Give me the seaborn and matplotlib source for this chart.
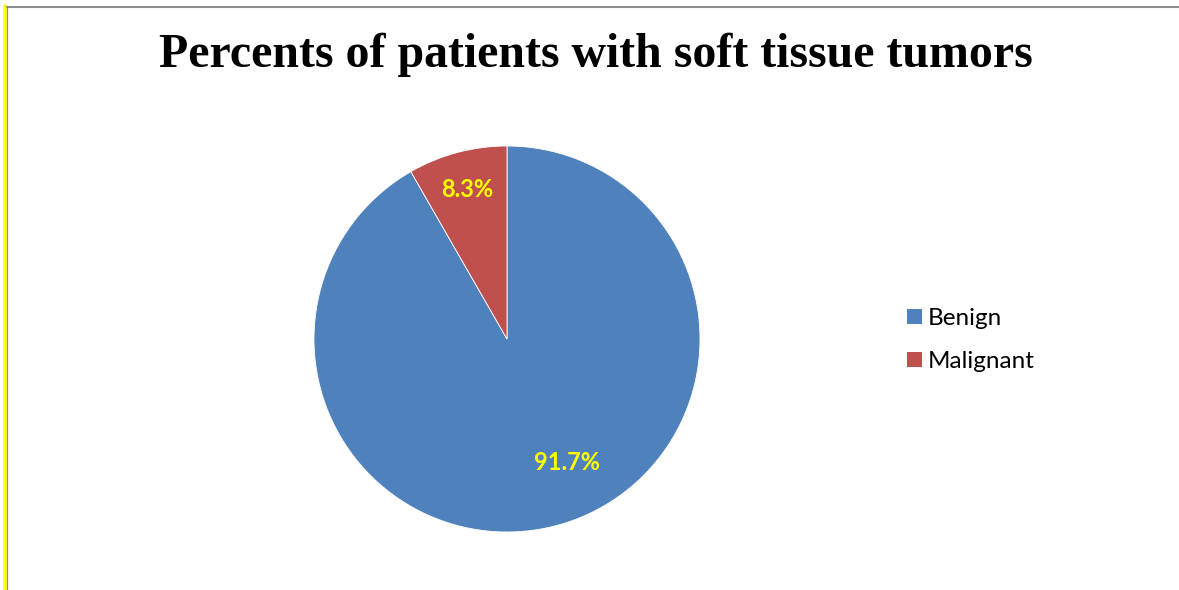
import matplotlib
matplotlib.use("Agg")
import matplotlib.pyplot as plt
import seaborn as sns
from matplotlib.lines import Line2D
from matplotlib.patches import Patch

# data
categories = ["Benign", "Malignant"]
percents = [91.7, 8.3]
colors = ["#4F81BD", "#C0504D"]

sns.set_theme(style="white")
plt.rcParams['font.family'] = ['Lato', 'DejaVu Sans']
plt.rcParams['text.color'] = 'black'

W, H = 1179, 590
fig = plt.figure(figsize=(W / 100, H / 100), dpi=100)
fig.patch.set_facecolor("white")

# pie axes: centre ~ (507, 339), radius ~ 193 px
cx, cy, r = 507, 339, 193
ax = fig.add_axes([(cx - r) / W, (H - cy - r) / H, 2 * r / W, 2 * r / H])
wedges, texts, autotexts = ax.pie(
    percents, colors=colors, startangle=90, counterclock=False,
    autopct=lambda p: f"{p:.1f}%", pctdistance=0.8,
    wedgeprops=dict(edgecolor="white", linewidth=0.6),
    textprops=dict(color="#FFFF00", fontsize=17, fontweight="bold"))
autotexts[0].set_position((0.31, -0.64))
ax.set_xlim(-1, 1)
ax.set_ylim(-1, 1)
ax.set_aspect("equal")
ax.axis("off")

fig.text(596 / W, 1 - 55 / H, "Percents of patients with soft tissue tumors",
         ha="center", va="center", fontsize=34.5, fontweight="bold",
         family="Liberation Serif", color="black")

handles = [Patch(facecolor=c, edgecolor="none") for c in colors]
fig.legend(handles, categories, loc="center left",
           bbox_to_anchor=(885 / W, 1 - 340 / H), frameon=False,
           fontsize=17.5, handlelength=0.62, handleheight=0.62,
           handletextpad=0.25, labelspacing=0.9, labelcolor="black")

# frame lines (yellow left edge, grey border)
fig.add_artist(Line2D([5.0 / W, 5.0 / W], [0, 1 - 6 / H], color="#FFFF00",
                      linewidth=2.6, transform=fig.transFigure))
fig.add_artist(Line2D([7.5 / W, 7.5 / W], [0, 1 - 6 / H], color="#8C8C8C",
                      linewidth=0.9, transform=fig.transFigure))
fig.add_artist(Line2D([7.5 / W, 1], [1 - 6.5 / H, 1 - 6.5 / H], color="#8C8C8C",
                      linewidth=1.5, transform=fig.transFigure))

fig.savefig("out.png", dpi=100)
